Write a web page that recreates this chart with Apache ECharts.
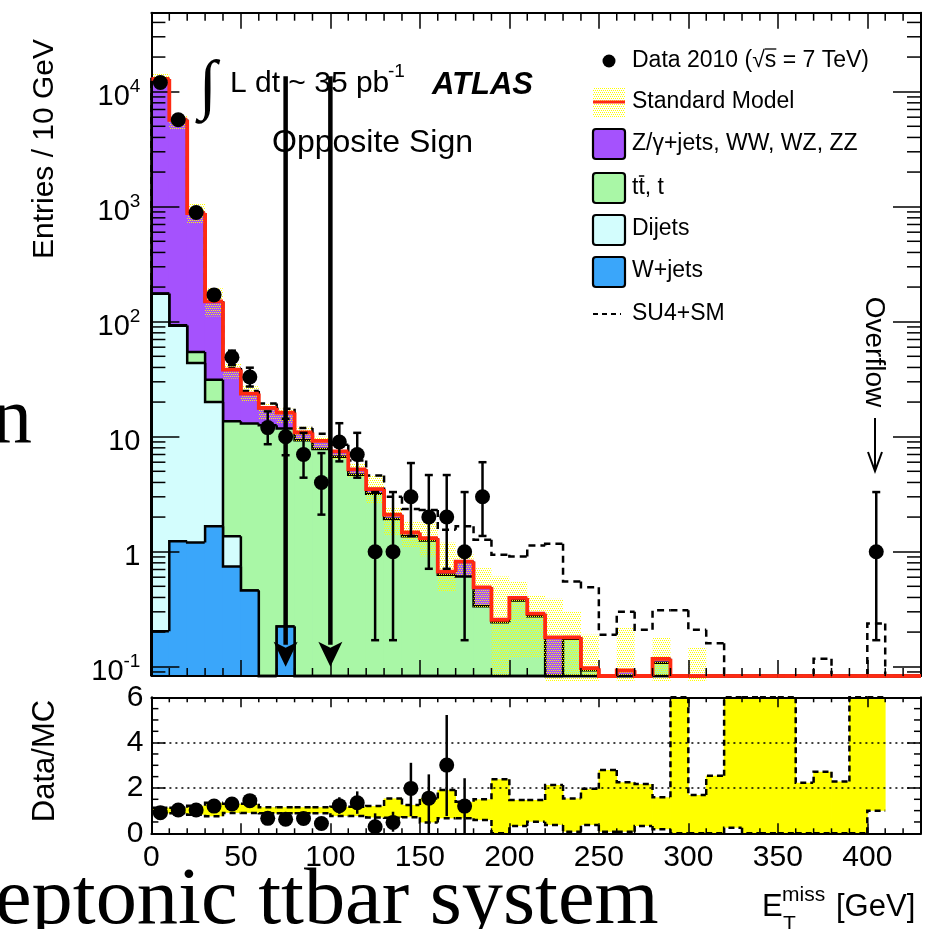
<!DOCTYPE html>
<html>
<head>
<meta charset="utf-8">
<script src="https://cdn.jsdelivr.net/npm/echarts@6.0.0/dist/echarts.min.js"></script>
<style>
html,body{margin:0;padding:0;background:#fff;overflow:hidden;}
#chart{width:927px;height:929px;}
</style>
</head>
<body>
<div id="chart"></div>
<script>
// ================= DATA =================
const binEdges = [0,10,20,30,40,50,60,70,80,90,100,110,120,130,140,150,160,170,180,190,200,210,220,230,240,250,260,270,280,290,300,310,320,330,340,350,360,370,380,390,400,410,420,430];

// cumulative stack tops (entries / 10 GeV)
const smTotal = [12900,5700,880,150,38.3,23.7,17.8,16.2,10.9,9.2,7.45,5.2,3.5,2.1,1.47,1.31,0.67,0.82,0.49,0.256,0.396,0.289,0.18,0.18,0.097,0,0.093,0,0.117,0,0,0,0,0,0,0,0,0,0,0,0,0,0];
const ttbarStackTop = [176,93,54.5,31.3,13.6,13.0,12.6,11.8,9.3,7.8,6.7,4.67,3.19,1.92,1.36,1.25,0.63,0.61,0.335,0.243,0.377,0.274,0,0.175,0.093,0,0,0,0.108,0,0,0,0,0,0,0,0,0,0,0,0,0,0];
const dijetStackTop = [175,92,43.7,20,1.36,0.46,0,0.224,0,0,0,0,0,0,0,0,0,0,0,0,0,0,0,0,0,0,0,0,0,0,0,0,0,0,0,0,0,0,0,0,0,0,0];
const wjetsStackTop = [0.203,1.23,1.2,1.66,0.745,0.46,0,0.224,0,0,0,0,0,0,0,0,0,0,0,0,0,0,0,0,0,0,0,0,0,0,0,0,0,0,0,0,0,0,0,0,0,0,0];
const su4PlusSM = [12900,5700,880,150,39.5,25,19.4,17.5,11.9,10.6,8.5,6.2,4.6,3.0,2.35,2.3,1.55,1.66,1.27,0.94,0.91,1.13,1.17,0.55,0.49,0.19,0.30,0.21,0.31,0.31,0.21,0.16,0,0,0,0,0,0.117,0,0,0.237,0,0];
// SM uncertainty band (top panel)
const smBandLow  = [11700,4700,720,111,32,20,14,13,9.1,7.7,6.3,4.4,2.6,1.4,1.1,0.91,0.45,0.62,0.33,0.085,0.12,0.12,0.05,0.05,0.05,0,0.05,0,0.05,0,0.05,0,0,0,0,0,0,0,0,0,0,0,0];
const smBandHigh = [14300,6200,1070,195,43,27.5,19.5,17.5,12.2,10,7.8,5.9,4.6,2.4,1.85,1.8,1.2,0.95,0.72,0.61,0.55,0.42,0.39,0.3,0.19,0,0.22,0,0.18,0,0.146,0,0,0,0,0,0,0,0,0,0,0,0];

// data points
const dataBinCenter = [5,15,25,35,45,55,65,75,85,95,105,115,125,135,145,155,165,175,185,405];
const dataEntries   = [12000,5700,890,171,49,33,12,10,7,4,9,7,1,1,3,2,2,1,3,1];
const dataLow       = [11890,5625,860,158,42,27.3,8.6,6.9,4.4,2.1,6.1,4.4,0.17,0.17,1.37,0.71,0.71,0.17,1.37,0.17];
const dataHigh      = [12110,5775,920,184,56,39.8,16.6,14.3,10.8,7.2,13.1,10.8,3.3,3.3,5.9,4.64,4.64,3.3,6.0,3.3];

// ratio panel
const ratioBinCenter = [5,15,25,35,45,55,65,75,85,95,105,115,125,135,145,155,165,175];
const ratioValues = [0.91,1.03,1.03,1.2,1.29,1.44,0.66,0.62,0.65,0.43,1.22,1.35,0.29,0.48,1.98,1.55,3.01,1.2];
const ratioLow    = [0.9,1.01,1.0,1.1,1.1,1.2,0.48,0.42,0.42,0.22,0.86,0.86,0.0,0.07,0.76,0.0,0.76,0.0];
const ratioHigh   = [0.92,1.05,1.06,1.3,1.48,1.7,0.86,0.82,0.88,0.65,1.59,1.85,0.88,0.95,3.11,2.6,5.22,2.43];
// ratio uncertainty band (99 = off scale)
const ratioBandLow  = [0.88,0.88,0.82,0.75,0.9,0.9,0.88,0.88,0.88,0.88,0.76,0.76,0.7,0.69,0.71,0.48,0.66,0.66,0.59,0,0.32,0.51,0.37,0.07,0.37,0.07,0.07,0.32,0.18,0,0,0,0.25,0,0,0,0,0,0,0,1.0,null,null];
const ratioBandHigh = [1.13,1.13,1.22,1.35,1.3,1.3,1.15,1.15,1.15,1.15,1.17,1.17,1.2,1.54,1.25,1.54,1.91,1.39,1.5,2.38,1.47,1.47,2.13,1.54,1.96,2.79,2.25,2.17,1.59,99,1.69,2.54,99,99,99,99,2.23,2.72,2.28,99,99,null,null];

// cut arrows
const cutValues = [75, 100];
const arrowTopValue = 13600;
const arrowTipValue = 0.1;

// axis tick labels
const ratioTickLabels = [0,2,4,6];
const xTickLabels = [0,50,100,150,200,250,300,350,400];

// ================= RENDERING =================
const YMIN = 0.083, YMAX = 48600, XMAX = 430, RMAX = 6;
const FONT = "'Liberation Sans', Arial, Helvetica, sans-serif";
const SERIF = "'Liberation Serif', 'Times New Roman', serif";
const C_Z = '#a552fd', C_TT = '#a9f7a6', C_DJ = '#d3fdfd', C_WJ = '#3aa6fa', C_RED = '#ff2a12', C_YEL = '#ffff00';

const pat = document.createElement('canvas');
pat.width = 4; pat.height = 4;
(function(){ const c = pat.getContext('2d'); c.fillStyle = C_YEL;
  [[0,0],[2,0],[1,2],[3,2]].forEach(p=>c.fillRect(p[0],p[1],1,1)); })();
const hatch = {type:'pattern', image: pat, repeat: 'repeat'};

const mctx = document.createElement('canvas').getContext('2d');
function textW(t, font){ mctx.font = font; return mctx.measureText(t).width; }

function stepLayer(name, values, fill, stroke, lw, dash, z, noLeftEdge) {
  const items = values.map((v,i)=>[binEdges[i], binEdges[i+1], v, i>0 ? values[i-1] : (noLeftEdge ? v : 0)]);
  return {
    type:'custom', name, xAxisIndex:0, yAxisIndex:0, z, silent:true,
    encode:{x:[0,1], y:2}, data: items,
    renderItem(params, api){
      const x0=api.value(0), x1=api.value(1), v=api.value(2), vp=api.value(3);
      const base = api.coord([x0, YMIN]);
      const yb = base[1];
      const yOf = val => (val > YMIN ? api.coord([x0, val])[1] : yb);
      const px0 = base[0], px1 = api.coord([x1, YMIN])[0];
      const yv = yOf(v), yp = yOf(vp);
      const ch = [];
      if (fill && yv < yb - 0.01) ch.push({type:'rect', shape:{x:px0-0.4, y:yv, width:px1-px0+0.8, height:yb-yv}, style:{fill}});
      if (stroke) ch.push({type:'polyline', shape:{points:[[px0,yp],[px0,yv],[px1,yv]]}, style:{stroke, lineWidth:lw, lineDash:dash||null, fill:null}});
      return {type:'group', children:ch};
    }
  };
}

const logMinorTicks = [];
for (let k=-2;k<=4;k++) for (let m=2;m<=9;m++){ const v=m*Math.pow(10,k); if (v>YMIN && v<YMAX) logMinorTicks.push(v); }
const xMinorTicks = [];
for (let x=10; x<XMAX; x+=10) if (x % 50 !== 0) xMinorTicks.push(x);
const rMinorTicks = [0.5,1,1.5,2.5,3,3.5,4.5,5,5.5];

function tickSeries(xi, yi, data, fn, z){
  return {type:'custom', xAxisIndex:xi, yAxisIndex:yi, z:z||11, silent:true, encode:{x:0,y:1}, data, renderItem: fn};
}
const L = (x1,y1,x2,y2,w)=>({type:'line', shape:{x1,y1,x2,y2}, style:{stroke:'#000', lineWidth:w||1.5}});

const series = [
  stepLayer('Z', smTotal, C_Z, '#000', 2.5, null, 2),
  stepLayer('ttbar', ttbarStackTop, C_TT, '#000', 2.5, null, 3),
  stepLayer('Dijets', dijetStackTop, C_DJ, '#000', 2.5, null, 4),
  stepLayer('W+jets', wjetsStackTop, C_WJ, '#000', 2.5, null, 5),
  { // SM uncertainty band
    type:'custom', xAxisIndex:0, yAxisIndex:0, z:6, silent:true, encode:{x:[0,1], y:[2,3]},
    data: smBandHigh.map((h,i)=>[binEdges[i], binEdges[i+1], smBandLow[i], h]).filter(d=>d[3]>0),
    renderItem(p, api){
      const x0=api.value(0), x1=api.value(1), lo=api.value(2), hi=api.value(3);
      const b = api.coord([x0, YMIN]);
      const yh = api.coord([x0, hi])[1];
      const yl = lo >= YMIN ? api.coord([x0, lo])[1] : b[1] + 6;
      const px1 = api.coord([x1, YMIN])[0];
      return {type:'rect', shape:{x:b[0], y:yh, width:px1-b[0], height:yl-yh}, style:{fill:hatch}};
    }
  },
  stepLayer('SU4+SM', su4PlusSM, null, '#000', 2.5, [7,5], 7),
  stepLayer('Standard Model', smTotal, null, C_RED, 3.8, null, 11, true),
  { // cut arrows
    type:'custom', xAxisIndex:0, yAxisIndex:0, z:12, silent:true, encode:{x:0, y:[1,2]},
    data: cutValues.map(c=>[c, arrowTopValue, arrowTipValue]),
    renderItem(p, api){
      const t = api.coord([api.value(0), api.value(1)]), s = api.coord([api.value(0), api.value(2)]);
      const hl = 25, hw = 12;
      return {type:'group', children:[
        L(t[0], t[1], s[0], s[1]-hl+3, 4.5),
        {type:'polygon', shape:{points:[[s[0]-hw, s[1]-hl],[s[0], s[1]-hl+6],[s[0]+hw, s[1]-hl],[s[0], s[1]]]}, style:{fill:'#000'}}
      ]};
    }
  },
  { // data error bars
    type:'custom', xAxisIndex:0, yAxisIndex:0, z:13, silent:true, encode:{x:0, y:[1,2]},
    data: dataBinCenter.map((x,i)=>[x, dataLow[i], dataHigh[i]]),
    renderItem(p, api){
      const a = api.coord([api.value(0), api.value(1)]), b = api.coord([api.value(0), api.value(2)]);
      const w = 4;
      return {type:'group', children:[ L(a[0],a[1],b[0],b[1],2.5), L(a[0]-w,a[1],a[0]+w,a[1],2.5), L(b[0]-w,b[1],b[0]+w,b[1],2.5) ]};
    }
  },
  {type:'scatter', xAxisIndex:0, yAxisIndex:0, z:14, silent:true, symbol:'circle', symbolSize:15,
   itemStyle:{color:'#000', opacity:1}, data: dataBinCenter.map((x,i)=>[x, dataEntries[i]])},
  // minor ticks top panel
  tickSeries(0,0, logMinorTicks.map(v=>[0,v]), (p,api)=>{
    const a = api.coord([0, api.value(1)]), b = api.coord([XMAX, api.value(1)]);
    return {type:'group', children:[L(a[0],a[1],a[0]+14,a[1]), L(b[0],b[1],b[0]-14,b[1])]};
  }),
  tickSeries(0,0, xMinorTicks.map(x=>[x,YMIN]), (p,api)=>{
    const a = api.coord([api.value(0), YMIN]), b = api.coord([api.value(0), YMAX]);
    return {type:'group', children:[L(a[0],a[1],a[0],a[1]-8), L(b[0],b[1],b[0],b[1]+8)]};
  }),
  // ratio band
  {
    type:'custom', xAxisIndex:2, yAxisIndex:2, z:3, silent:true, encode:{x:[0,1], y:[2,3]},
    data: ratioBandLow.map((lo,i)=>[binEdges[i], binEdges[i+1], lo, ratioBandHigh[i],
            (i>0 && ratioBandLow[i-1]!=null) ? ratioBandLow[i-1] : lo,
            (i>0 && ratioBandHigh[i-1]!=null) ? ratioBandHigh[i-1] : ratioBandHigh[i]]).filter(d=>d[2]!=null),
    renderItem(p, api){
      const x0=api.value(0), x1=api.value(1);
      const c = v => api.coord([x0, Math.max(0, Math.min(RMAX, v))])[1];
      const px0 = api.coord([x0, 0])[0], px1 = api.coord([x1, 0])[0];
      const lo=api.value(2), hi=api.value(3), lp=api.value(4), hp=api.value(5);
      const dash = [6,4];
      return {type:'group', children:[
        {type:'rect', shape:{x:px0-0.4, y:c(hi), width:px1-px0+0.8, height:c(lo)-c(hi)}, style:{fill:C_YEL}},
        {type:'polyline', shape:{points:[[px0,c(hp)],[px0,c(hi)],[px1,c(hi)]]}, style:{stroke:'#000', lineWidth:2.5, lineDash:dash, fill:null}},
        {type:'polyline', shape:{points:[[px0,c(lp)],[px0,c(lo)],[px1,c(lo)]]}, style:{stroke:'#000', lineWidth:2.5, lineDash:dash, fill:null}}
      ]};
    }
  },
  { // ratio error bars
    type:'custom', xAxisIndex:2, yAxisIndex:2, z:13, silent:true, encode:{x:0, y:[1,2]},
    data: ratioBinCenter.map((x,i)=>[x, ratioLow[i], ratioHigh[i]]),
    renderItem(p, api){
      const a = api.coord([api.value(0), api.value(1)]), b = api.coord([api.value(0), api.value(2)]);
      return L(a[0],a[1],b[0],b[1],2.5);
    }
  },
  {type:'scatter', xAxisIndex:2, yAxisIndex:2, z:14, silent:true, symbol:'circle', symbolSize:15,
   itemStyle:{color:'#000', opacity:1}, data: ratioBinCenter.map((x,i)=>[x, ratioValues[i]])},
  tickSeries(2,2, rMinorTicks.map(v=>[0,v]), (p,api)=>{
    const a = api.coord([0, api.value(1)]), b = api.coord([XMAX, api.value(1)]);
    return {type:'group', children:[L(a[0],a[1],a[0]+7,a[1]), L(b[0],b[1],b[0]-7,b[1])]};
  }),
  tickSeries(2,2, xMinorTicks.map(x=>[x,0]), (p,api)=>{
    const a = api.coord([api.value(0), 0]), b = api.coord([api.value(0), RMAX]);
    return {type:'group', children:[L(a[0],a[1],a[0],a[1]-5), L(b[0],b[1],b[0],b[1]+5)]};
  })
];

const axLine = {onZero:false, lineStyle:{color:'#000', width:2}};
function xAx(grid, pos, tickLen, labels){
  return {gridIndex:grid, type:'value', position:pos, min:0, max:XMAX, interval:50, z:10,
    axisLine:axLine, axisTick:{inside:true, length:tickLen, lineStyle:{color:'#000', width:1.5}},
    splitLine:{show:false},
    axisLabel: labels ? {show:true, fontSize:30, fontFamily:FONT, color:'#000', margin:9,
      formatter: v => (xTickLabels.indexOf(Math.round(v))>=0 && Math.abs(v-Math.round(v))<1e-6) ? String(Math.round(v)) : ''} : {show:false}};
}
function logLabel(v){
  const e = Math.log10(v), r = Math.round(e);
  if (Math.abs(e-r) > 1e-6) return '';
  if (r === 1) return '{b|10}';
  if (r === 0) return '{b|1}';
  return '{b|10}{s|' + r + '}';
}

const option = {
  animation:false,
  backgroundColor:'#fff',
  textStyle:{fontFamily:FONT},
  grid:[
    {left:151.4, top:12.7, width:769.6, height:663.3, show:false},
    {left:151.4, top:697.3, width:769.6, height:136, show:false}
  ],
  xAxis:[ xAx(0,'bottom',16,false), xAx(0,'top',16,false), xAx(1,'bottom',10,true), xAx(1,'top',10,false) ],
  yAxis:[
    {gridIndex:0, type:'log', logBase:10, min:YMIN, max:YMAX, position:'left', z:10,
     axisLine:axLine, axisTick:{inside:true, length:28, lineStyle:{color:'#000', width:1.5}},
     minorTick:{show:false}, splitLine:{show:false},
     axisLabel:{show:true, color:'#000', margin:11, padding:[10,0,0,0], formatter: logLabel,
       rich:{ b:{fontSize:29, fontFamily:FONT, color:'#000', lineHeight:38}, s:{fontSize:19, fontFamily:FONT, color:'#000', verticalAlign:'top', lineHeight:20} } }},
    {gridIndex:0, type:'log', logBase:10, min:YMIN, max:YMAX, position:'right', z:10,
     axisLine:axLine, axisTick:{inside:true, length:28, lineStyle:{color:'#000', width:1.5}},
     minorTick:{show:false}, splitLine:{show:false}, axisLabel:{show:false}},
    {gridIndex:1, type:'value', min:0, max:RMAX, interval:2, position:'left', z:10,
     axisLine:axLine, axisTick:{inside:true, length:14, lineStyle:{color:'#000', width:1.5}},
     splitLine:{show:true, lineStyle:{color:'#000', width:1.5, type:[2,4]}},
     axisLabel:{show:true, fontSize:30, fontFamily:FONT, color:'#000', margin:8,
       formatter: v => ratioTickLabels.indexOf(v)>=0 ? String(v) : ''}},
    {gridIndex:1, type:'value', min:0, max:RMAX, interval:2, position:'right', z:10,
     axisLine:axLine, axisTick:{inside:true, length:14, lineStyle:{color:'#000', width:1.5}},
     splitLine:{show:false}, axisLabel:{show:false}}
  ],
  series
};

// ---------- annotations / legend ----------
const f23 = '23px ' + FONT;
const T = (text, x, y, font, extra) => Object.assign({type:'text', x, y, z:30,
  style:{text, font, fill:'#000', align:'left', textAlign:'left', verticalAlign:'middle', textVerticalAlign:'middle'}}, extra||{});
const TC = (text, x, y, font, rot) => ({type:'text', x, y, z:30, rotation:rot,
  style:{text, font, fill:'#000', align:'center', textAlign:'center', verticalAlign:'middle', textVerticalAlign:'middle'}});
const box = (y, fill) => ({type:'rect', z:30, shape:{x:593, y, width:32, height:30, r:3}, style:{fill, stroke:'#000', lineWidth:2.2}});

const dataLbl1 = 'Data 2010 (\u221A';
const sX = 632 + textW(dataLbl1, f23), sW = textW('s', f23);
const ttX = 632 + textW('t', f23), ttW = textW('t', f23);

option.graphic = [
  // background slide text
  T('n', -8, 421, '80px ' + SERIF, {z:0}),
  T('eptonic ttbar system', -5, 902, '80px ' + SERIF, {z:0, scaleX:1.03}),
  // legend
  {type:'circle', z:30, shape:{cx:609, cy:61, r:6.5}, style:{fill:'#000'}},
  T(dataLbl1 + 's = 7 TeV)', 632, 61, f23),
  L(sX, 49, sX+sW, 49, 1.3),
  {type:'rect', z:30, shape:{x:593, y:87, width:32, height:30}, style:{fill:hatch}},
  Object.assign(L(593,102,625,102,3), {z:31, style:{stroke:C_RED, lineWidth:3}}),
  T('Standard Model', 632, 102, f23),
  box(129, C_Z), T('Z/\u03B3+jets, WW, WZ, ZZ', 632, 144, f23),
  box(173, C_TT), T('tt, t', 632, 188, f23),
  L(ttX+0.5, 176, ttX+ttW-0.5, 176, 1.5),
  box(215, C_DJ), T('Dijets', 632, 229, f23),
  box(257, C_WJ), T('W+jets', 632, 271, f23),
  {type:'line', z:30, shape:{x1:593, y1:314, x2:621, y2:314}, style:{stroke:'#000', lineWidth:2, lineDash:[5,4]}},
  T('SU4+SM', 632, 314, f23),
  // luminosity & labels
  T('\u222B', 199, 89, '66px ' + SERIF),
  T('L dt ~ 35 pb', 230, 84, '30px ' + FONT),
  T('-1', 388, 72, '19px ' + FONT),
  T('ATLAS', 432, 85, 'italic bold 31px ' + FONT),
  T('Opposite Sign', 272, 143, '32px ' + FONT),
  // overflow
  TC('Overflow', 874, 352, '28px ' + FONT, -Math.PI/2),
  L(875, 418, 875, 470, 2),
  {type:'polyline', z:30, shape:{points:[[868,452],[875,471],[882,452]]}, style:{stroke:'#000', lineWidth:2, fill:null}},
  // axis titles
  TC('Entries / 10 GeV', 45, 149, '30px ' + FONT, Math.PI/2),
  TC('Data/MC', 45, 761, '31px ' + FONT, Math.PI/2),
  T('E', 762, 907, '31px ' + FONT),
  T('miss', 782, 895, '21px ' + FONT),
  T('T', 783, 924, '21px ' + FONT),
  T('[GeV]', 836, 907, '31px ' + FONT)
];

const chart = echarts.init(document.getElementById('chart'), null, {renderer:'canvas', width:927, height:929});
chart.setOption(option);
</script>
</body>
</html>
